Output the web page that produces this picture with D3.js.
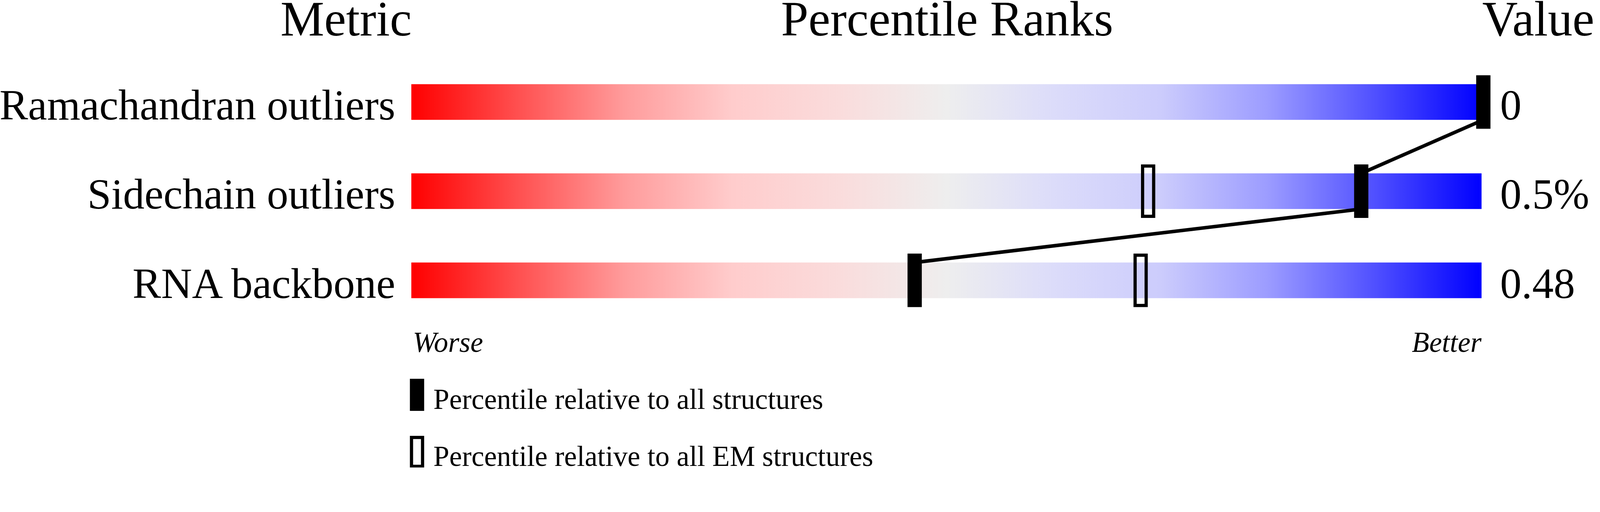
<!DOCTYPE html>
<html>
<head>
<meta charset="utf-8">
<script src="https://cdn.jsdelivr.net/npm/d3@7"></script>
<style>
    html, body { margin: 0; padding: 0; background: #fff; overflow: hidden; }
    svg { display: block; width: 100vw; height: 29.2308vw; }
    text { font-family: "Liberation Serif", "Times New Roman", serif; fill: #000; }
    .header { font-size: 138px; }
    .metric, .value { font-size: 120px; }
    .end-label { font-size: 80px; font-style: italic; }
    .legend-label { font-size: 80px; }
</style>
</head>
<body>
<svg></svg>
<script>
// chart data
const headers = ['Metric', 'Percentile Ranks', 'Value'];
const metrics = ['Ramachandran outliers', 'Sidechain outliers', 'RNA backbone'];
const values = ['0', '0.5%', '0.48'];
const percentileAll = [100, 88.6, 46.9];
const percentileEM = [null, 68.7, 68.0];
const endLabels = ['Worse', 'Better'];
const legendLabels = ['Percentile relative to all structures', 'Percentile relative to all EM structures'];

// red -> grey -> blue slider colours
const gradientStops = [
    [0, '#ff0000'], [0.1, '#ff5050'], [0.2, '#ff9c9c'], [0.3, '#ffcccc'], [0.4, '#fadcdc'],
    [0.5, '#eeeeee'], [0.6, '#dcdcfa'], [0.7, '#ccccfc'], [0.8, '#9c9cff'], [0.9, '#5050ff'], [1, '#0000ff']
];

function drawChart() {
    const svgWidth = 4485, svgHeight = 1311;
    const barLeft = 1153, barRight = 4153;
    const markerW = 40, markerH = 150, openStroke = 9;

    // viewBox, width tied to the window so the pixel ratio does not matter
    const svg = d3.select('svg')
        .attr("viewBox", `0 0 ${svgWidth} ${svgHeight}`)
        .attr("preserveAspectRatio", "xMinYMin meet");

    // xScale (percentile)
    const x = d3.scaleLinear()
        .domain([0, 100])
        .range([barLeft + 3, barRight + 5]);

    // rows
    const y = d3.scaleBand()
        .domain(metrics)
        .range([236, 836])
        .paddingInner(0.6);

    const rows = metrics.map((m, i) => ({
        metric: m, value: values[i], all: percentileAll[i], em: percentileEM[i]
    }));

    // gradient
    const grad = svg.append("defs").append("linearGradient")
        .attr("id", "slider")
        .attr("gradientUnits", "userSpaceOnUse")
        .attr("x1", barLeft).attr("x2", barRight)
        .attr("y1", 0).attr("y2", 0);

    grad.selectAll("stop")
        .data(gradientStops)
        .enter().append("stop")
        .attr("offset", d => d[0])
        .attr("stop-color", d => d[1]);

    // headers
    svg.append("text").attr("class", "header")
        .attr("x", barLeft + 1).attr("y", 100)
        .attr("text-anchor", "end")
        .text(headers[0]);

    svg.append("text").attr("class", "header")
        .attr("x", (barLeft + barRight) / 2 + 2).attr("y", 100)
        .attr("text-anchor", "middle")
        .text(headers[1]);

    svg.append("text").attr("class", "header")
        .attr("x", 4155).attr("y", 100)
        .attr("text-anchor", "start")
        .text(headers[2]);

    // slider bars
    svg.selectAll(".bar")
        .data(rows)
        .enter().append("rect")
        .attr("class", "bar")
        .attr("x", barLeft)
        .attr("y", d => y(d.metric))
        .attr("width", barRight - barLeft)
        .attr("height", y.bandwidth())
        .attr("fill", "url(#slider)");

    // metric labels
    svg.selectAll(".metric")
        .data(rows)
        .enter().append("text")
        .attr("class", "metric")
        .attr("x", 1108)
        .attr("y", d => y(d.metric) + y.bandwidth() - 1)
        .attr("text-anchor", "end")
        .text(d => d.metric);

    // value labels
    svg.selectAll(".value")
        .data(rows)
        .enter().append("text")
        .attr("class", "value")
        .attr("x", 4205)
        .attr("y", d => y(d.metric) + y.bandwidth() - 1)
        .text(d => d.value);

    // connecting line: bottom of one bar to top of the next
    const segments = [];
    for (let i = 1; i < rows.length; i++) {
        segments.push([
            [x(rows[i - 1].all), y(rows[i - 1].metric) + y.bandwidth()],
            [x(rows[i].all), y(rows[i].metric)]
        ]);
    }

    svg.selectAll(".link")
        .data(segments)
        .enter().append("path")
        .attr("class", "link")
        .attr("fill", "none")
        .attr("stroke", "#000")
        .attr("stroke-width", 10)
        .attr("d", d3.line());

    // EM markers (open)
    const yOff = (markerH - y.bandwidth()) / 2;

    svg.selectAll(".em-marker")
        .data(rows.filter(d => d.em != null))
        .enter().append("rect")
        .attr("class", "em-marker")
        .attr("x", d => x(d.em) - markerW / 2 + openStroke / 2)
        .attr("y", d => y(d.metric) - yOff + openStroke / 2)
        .attr("width", markerW - openStroke)
        .attr("height", markerH - openStroke)
        .attr("fill", "none")
        .attr("stroke", "#000")
        .attr("stroke-width", openStroke);

    // all-structure markers (filled)
    svg.selectAll(".all-marker")
        .data(rows)
        .enter().append("rect")
        .attr("class", "all-marker")
        .attr("x", d => x(d.all) - markerW / 2)
        .attr("y", d => y(d.metric) - yOff)
        .attr("width", markerW)
        .attr("height", markerH)
        .attr("fill", "#000");

    // worse / better
    svg.append("text").attr("class", "end-label")
        .attr("x", barLeft + 4).attr("y", 987)
        .text(endLabels[0]);

    svg.append("text").attr("class", "end-label")
        .attr("x", barRight).attr("y", 987)
        .attr("text-anchor", "end")
        .text(endLabels[1]);

    // legend
    const legend = svg.selectAll(".legend")
        .data(legendLabels)
        .enter().append("g")
        .attr("class", "legend")
        .attr("transform", (d, i) => `translate(1149, ${1062 + i * 160})`);

    legend.append("rect")
        .attr("x", (d, i) => i === 0 ? 0 : openStroke / 2)
        .attr("y", (d, i) => i === 0 ? 0 : openStroke / 2)
        .attr("width", (d, i) => i === 0 ? markerW : markerW - openStroke)
        .attr("height", (d, i) => i === 0 ? 90 : 90 - openStroke)
        .attr("fill", (d, i) => i === 0 ? "#000" : "none")
        .attr("stroke", (d, i) => i === 0 ? "none" : "#000")
        .attr("stroke-width", openStroke);

    legend.append("text")
        .attr("class", "legend-label")
        .attr("x", 66)
        .attr("y", 84)
        .text(d => d);
}

// run
drawChart();
</script>
</body>
</html>
